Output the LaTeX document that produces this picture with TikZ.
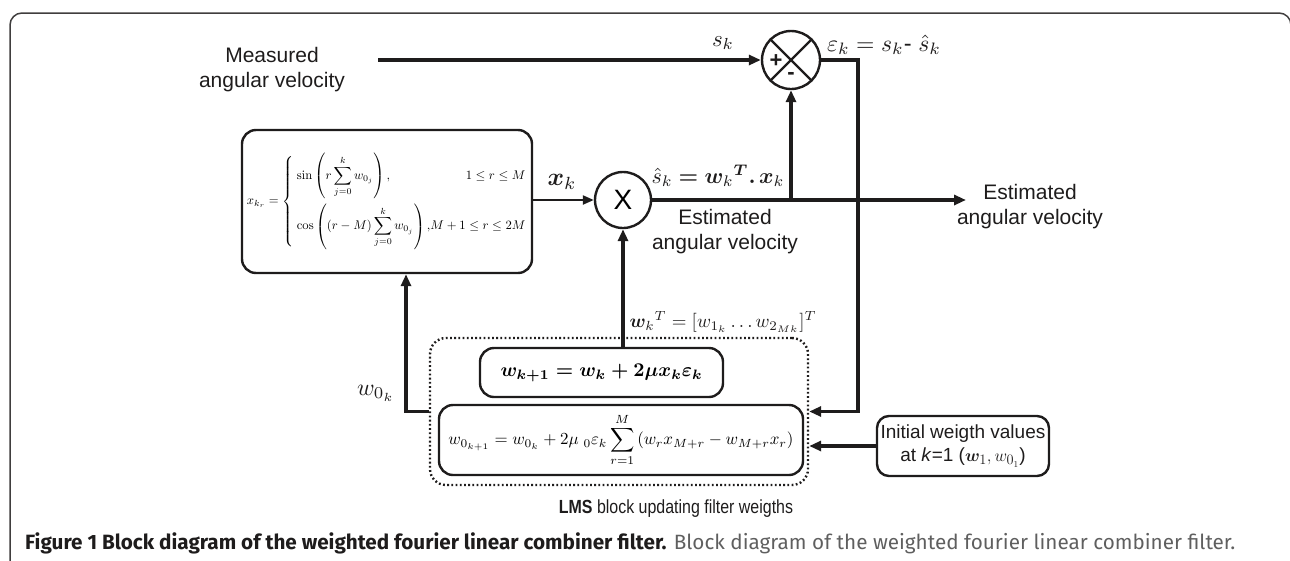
\documentclass[tikz,border=0pt]{standalone}
\usepackage{amsmath,amssymb,bm}
\usepackage[no-math]{fontspec}
\setmainfont{Liberation Sans}
\newfontfamily\capfont{Fira Sans}
\usetikzlibrary{arrows.meta,calc}
\definecolor{ink}{RGB}{30,28,28}
\definecolor{capgray}{RGB}{95,95,95}
\newcommand{\fitw}[2]{\resizebox{#1}{!}{#2}}
\begin{document}
\begin{tikzpicture}[x=1pt,y=-1pt,
  flow/.style={line width=3.3pt, draw=ink},
  thinflow/.style={line width=2.2pt, draw=ink},
  tip/.style={-{Triangle[length=12pt,width=10pt]}},
  smalltip/.style={-{Triangle[length=11pt,width=9pt]}},
  blk/.style={draw=ink, line width=2.4pt, rounded corners=14pt, inner sep=0pt},
  lbl/.style={text=ink, inner sep=0pt},
  sanslbl/.style={font=\fontsize{21}{25}\selectfont, align=center, text=ink, inner sep=0pt},
  ring/.style={circle, draw=ink, line width=2.4pt, inner sep=0pt}
]
\useasboundingbox (0,0) rectangle (1290,560);
% outer frame
\draw[line width=1.5pt, draw=ink!85, rounded corners=12pt] (10,600) -- (10,13) -- (1291,13) -- (1291,600);

% blocks
\node[draw=ink, line width=2.4pt, dash pattern=on 1.8pt off 2.4pt, rounded corners=16pt,
      minimum width=378pt, minimum height=147pt] (lms) at (619,411.5) {};
\node[blk, minimum width=290pt, minimum height=143pt] (xkr) at (387,201.5)
  {\fitw{280pt}{$x_{k_r}=\left\{\begin{array}{@{\;}l@{}r@{}}
   \displaystyle\sin\left(r\sum_{j=0}^{k} w_{0_j}\right), & \displaystyle 1\le r\le M\\[16pt]
   \displaystyle\cos\left((r-M)\sum_{j=0}^{k} w_{0_j}\right), & \displaystyle M+1\le r\le 2M
   \end{array}\right.$}};
\node[ring, minimum size=56pt] (mult) at (623,200) {\fontsize{28}{30}\selectfont X};
\node[ring, minimum size=58pt] (sum) at (791,60) {};
\draw[draw=ink, line width=2.4pt] (sum.north east) -- (sum.south west);
\draw[draw=ink, line width=2.4pt] (sum.north west) -- (sum.south east);
\node[lbl, font=\fontsize{22}{24}\selectfont\bfseries] (plus) at ($(sum.center)+(-15,1)$) {+};
\node[lbl, font=\fontsize{22}{24}\selectfont\bfseries] (minus) at ($(sum.center)+(0,16)$) {-};
\node[blk, minimum width=243pt, minimum height=49pt] (upd) at (601.5,372.5)
  {\fitw{202pt}{\boldmath$w_{k+1}=w_k+2\mu x_k\varepsilon_k$}};
\node[blk, minimum width=364pt, minimum height=70pt] (upd0) at (621,440)
  {\fitw{345pt}{$\displaystyle w_{0_{k+1}}=w_{0_k}+2\mu\ {}_0\varepsilon_k\sum_{r=1}^{M}\left(w_rx_{M+r}-w_{M+r}x_r\right)$}};
\node[blk, rounded corners=12pt, minimum width=172pt, minimum height=60pt, align=center,
      font=\fontsize{19}{23}\selectfont, text=ink] (init) at (963,446)
  {Initial weigth values\\at \textit{k}=1 ($\boldsymbol{w}_1, w_{0_1}$)};

% text labels
\node[sanslbl] (meas) at (272,70) {Measured\\angular velocity};
\node[sanslbl] (est1) at (725,232) {Estimated\\angular velocity};
\node[sanslbl] (est2) at (1030,207) {Estimated\\angular velocity};
\node[lbl, font=\fontsize{19}{22}\selectfont] (lmslbl) at (676,509) {\scalebox{0.84}[1]{\textbf{LMS} block updating filter weigths}};
\node[lbl, anchor=west] (cap) at (25,543) {\fitw{1210pt}{\capfont\fontsize{18}{21}\selectfont\textbf{Figure 1 Block diagram of the weighted fourier linear combiner filter.} \textcolor{capgray}{Block diagram of the weighted fourier linear combiner filter.}}};

% math labels
\node[lbl] (sk) at (723,43) {\fitw{22pt}{$s_k$}};
\node[lbl] (ek) at (884,45) {\fitw{114pt}{$\varepsilon_k = s_k\text{-}\;\hat{s}_k$}};
\node[lbl] (shat) at (718,176) {\fitw{133pt}{$\hat{s}_k\mathrel{\boldsymbol{=}}\boldsymbol{w}_k{}^{\boldsymbol{T}}\boldsymbol{.}\,\boldsymbol{x}_k$}};
\node[lbl] (xk) at (562,182) {\fitw{29pt}{$\boldsymbol{x}_k$}};
\node[lbl] (wkt) at (723,322) {\fitw{187pt}{$\boldsymbol{w}_k{}^T=[w_{1_k}\ldots w_{2_{Mk}}]^T$}};
\node[lbl] (w0k) at (376,393) {\fitw{38pt}{$w_{0_k}$}};

% connectors
\coordinate (min) at (378,60);
\coordinate (fbc) at (858,60);
\coordinate (jn) at (sum.south |- mult.east);
\coordinate (estout) at (966,200);
\coordinate (wcorner) at (406,411.5);
\draw[flow,tip] (min) -- (sum.west);
\draw[flow,tip] (sum.east) -- (fbc) |- (lms.east);
\draw[flow,tip] (mult.east) -- (estout);
\draw[flow,tip] (jn) -- (sum.south);
\draw[thinflow,smalltip] (xkr.east |- mult.west) -- (mult.west);
\draw[flow,tip] (upd.north -| mult.south) -- (mult.south);
\draw[flow,tip] (lms.west) -- (wcorner) -- (wcorner |- xkr.south);
\draw[flow,tip] (init.west) -- (lms.east |- init.west);
\end{tikzpicture}
\end{document}
